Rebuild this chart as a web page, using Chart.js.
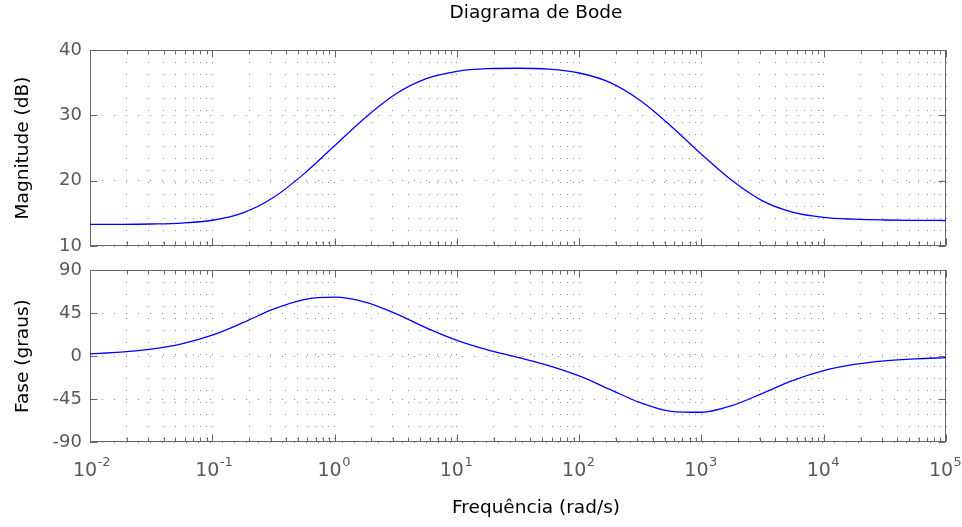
<!DOCTYPE html>
<html lang="pt">
<head>
<meta charset="UTF-8">
<title>Diagrama de Bode</title>
<script src="https://cdn.jsdelivr.net/npm/chart.js"></script>
<style>
    body { margin: 0; background: #fff; }
    .panel { position: absolute; left: 0; }
    #magPanel { top: 0; }
    #phasePanel { top: 255px; }
</style>
</head>
<body>
<div class="panel" id="magPanel"><canvas id="mag" width="962" height="262"></canvas></div>
<div class="panel" id="phasePanel"><canvas id="phase" width="962" height="272"></canvas></div>
<script>
// frequency samples (rad/s) and values
const freq = [0.01, 0.0178, 0.0316, 0.0562, 0.1, 0.178, 0.316, 0.562, 1, 1.78, 3.16, 5.62,
              10, 17.8, 31.6, 56.2, 100, 178, 316, 562, 1000, 1780, 3160, 5620,
              10000, 17800, 31600, 56200, 100000];
const magnitude = [13.31, 13.32, 13.37, 13.51, 13.94, 15.07, 17.42, 21.04, 25.34, 29.64, 33.26, 35.61,
                   36.73, 37.14, 37.21, 37.06, 36.48, 35.04, 32.27, 28.38, 24.05, 20.01, 16.9, 15.15,
                   14.38, 14.1, 13.98, 13.93, 13.9];
const phase = [2.3, 4.1, 7.3, 12.9, 21.9, 34.9, 49.1, 59.1, 61.6, 56.4, 44.4, 29.5,
               16.5, 6.6, -1.4, -9.9, -20.7, -34.7, -48.7, -57.7, -58.7, -51.7, -38.9, -25.3,
               -15.1, -8.7, -4.9, -2.8, -1.6];

const decades = [-2, -1, 0, 1, 2, 3, 4, 5];
const magTicks = [10, 20, 30, 40];
const phaseTicks = [-90, -45, 0, 45, 90];

const FONT = 'DejaVu Sans';
const TICK_GRAY = '#595959';
const LABEL_SHIFT = -5;   // moves the "10" left so base + exponent sit centred on the tick

function isDecade(v) {
    const e = Math.log10(v);
    return Math.abs(e - Math.round(e)) < 1e-6;
}

// every 1..9 x 10^k between the first and last decade
function logTicks(scale) {
    const out = [];
    for (let k = decades[0]; k < decades[decades.length - 1]; k++) {
        for (let m = 1; m < 10; m++) out.push({ value: m * Math.pow(10, k) });
    }
    out.push({ value: Math.pow(10, decades[decades.length - 1]) });
    scale.ticks = out;
}

// box round the plot with inward tick marks (matlab style)
const frame = {
    id: 'frame',
    beforeDatasetsDraw(chart) {
        const { ctx, chartArea: a, scales } = chart;
        const L = Math.round(a.left) + 0.5, R = Math.round(a.right) - 0.5;
        const T = Math.round(a.top) + 0.5, B = Math.round(a.bottom) - 0.5;
        ctx.save();
        ctx.strokeStyle = '#666';
        ctx.lineWidth = 1;
        ctx.beginPath();
        scales.x.ticks.forEach(t => {
            const x = Math.round(scales.x.getPixelForValue(t.value)) + 0.5;
            const len = isDecade(t.value) ? 7 : 4;
            ctx.moveTo(x, B); ctx.lineTo(x, B - len);
            ctx.moveTo(x, T); ctx.lineTo(x, T + len);
        });
        scales.y.ticks.forEach(t => {
            const y = Math.round(scales.y.getPixelForValue(t.value)) + 0.5;
            ctx.moveTo(L, y); ctx.lineTo(L + 7, y);
            ctx.moveTo(R, y); ctx.lineTo(R - 7, y);
        });
        ctx.stroke();
        ctx.strokeRect(L, T, R - L, B - T);
        ctx.restore();
    }
};

// exponents of the 10^k tick labels
const exponents = {
    id: 'exponents',
    afterDraw(chart) {
        const x = chart.scales.x;
        if (!x.options.ticks.display) return;
        const ctx = chart.ctx;
        ctx.save();
        ctx.font = '19px "' + FONT + '"';
        const half = ctx.measureText('10').width / 2;
        ctx.font = '13px "' + FONT + '"';
        ctx.fillStyle = TICK_GRAY;
        ctx.textAlign = 'left';
        ctx.textBaseline = 'alphabetic';
        x.ticks.forEach(t => {
            if (!isDecade(t.value)) return;
            const e = Math.round(Math.log10(t.value));
            const px = x.getPixelForValue(t.value) + LABEL_SHIFT + half + 0.5;
            ctx.fillText(String(e), px, chart.chartArea.bottom + 24);
        });
        ctx.restore();
    }
};

// title / axis caption, centred like the original figure (a bit right of the axes centre)
const caption = {
    id: 'caption',
    afterDraw(chart, args, o) {
        if (!o.text) return;
        const ctx = chart.ctx;
        ctx.save();
        ctx.font = '18.5px "' + FONT + '"';
        ctx.fillStyle = '#000';
        ctx.textAlign = 'center';
        ctx.textBaseline = 'middle';
        ctx.fillText(o.text, o.x, o.y);
        ctx.restore();
    }
};

function makeChart(id, values, yTicks, yTitle, opts) {
    const points = freq.map((f, i) => ({ x: f, y: values[i] }));
    return new Chart(document.getElementById(id), {
        type: 'line',
        data: {
            datasets: [{
                data: points,
                borderColor: '#0000ff',
                borderWidth: 1.3,
                pointRadius: 0,
                fill: false,
                cubicInterpolationMode: 'monotone'
            }]
        },
        options: {
            responsive: false,
            animation: false,
            layout: { padding: opts.padding },
            plugins: {
                legend: { display: false },
                tooltip: { enabled: false },
                caption: opts.caption
            },
            scales: {
                x: {
                    type: 'logarithmic',
                    min: Math.pow(10, decades[0]),
                    max: Math.pow(10, decades[decades.length - 1]),
                    afterBuildTicks: logTicks,
                    afterFit: scale => { scale.paddingLeft = 0; scale.paddingRight = 0; },
                    grid: { color: '#8c8c8c', lineWidth: 1, drawTicks: false },
                    border: { display: false, dash: [1, 11] },
                    ticks: {
                        display: opts.showX,
                        autoSkip: false,
                        maxRotation: 0,
                        minRotation: 0,
                        padding: 17,
                        labelOffset: LABEL_SHIFT,
                        color: TICK_GRAY,
                        font: { family: FONT, size: 19 },
                        callback: v => isDecade(v) ? '10' : ''
                    }
                },
                y: {
                    min: yTicks[0],
                    max: yTicks[yTicks.length - 1],
                    afterBuildTicks: scale => { scale.ticks = yTicks.map(v => ({ value: v })); },
                    afterFit: scale => { scale.width = 90; scale.paddingTop = 0; scale.paddingBottom = 0; },
                    grid: { color: '#8c8c8c', lineWidth: 1, drawTicks: false },
                    border: { display: false, dash: [1, 11] },
                    ticks: {
                        padding: 8,
                        color: TICK_GRAY,
                        font: { family: FONT, size: 18 }
                    },
                    title: {
                        display: true,
                        text: yTitle,
                        color: '#000',
                        font: { family: FONT, size: 18.5 },
                        padding: { top: 12, bottom: 4 }
                    }
                }
            }
        },
        plugins: [frame, exponents, caption]
    });
}

makeChart('mag', magnitude, magTicks, 'Magnitude (dB)', {
    showX: false,
    padding: { top: 50, right: 16, bottom: 16, left: 0 },
    caption: { text: 'Diagrama de Bode', x: 536, y: 13 }
});

makeChart('phase', phase, phaseTicks, 'Fase (graus)', {
    showX: true,
    padding: { top: 15, right: 16, bottom: 28, left: 0 },
    caption: { text: 'Frequência (rad/s)', x: 536, y: 253 }
});
</script>
</body>
</html>
